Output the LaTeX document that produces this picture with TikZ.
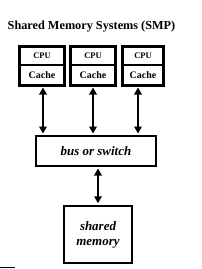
\documentclass[tikz,border=0pt]{standalone}
\usepackage{fontspec}
\setmainfont{Liberation Serif}
\usetikzlibrary{arrows.meta}
\begin{document}
\begin{tikzpicture}[x=1bp,y=-1bp,
  unitbox/.style={draw, line width=3bp},
  divline/.style={line width=2.2bp},
  lbl/.style={font=\bfseries\fontsize{8.5}{9}\selectfont, inner sep=0pt},
  itlbl/.style={font=\bfseries\itshape\fontsize{13}{15}\selectfont, inner sep=0pt, align=center},
  conn/.style={line width=2.8bp, {Triangle[length=7bp,width=7.5bp]}-{Triangle[length=7bp,width=7.5bp]}, shorten <=1.5bp, shorten >=1.5bp}
]
\useasboundingbox (0,0) rectangle (202,269);
\node[font=\bfseries\fontsize{12.3}{14}\selectfont, inner sep=0pt] (title) at (91.5,27) {Shared Memory Systems (SMP)};
% processor units
\foreach \i/\xa/\xb in {1/18/66, 2/69/117, 3/121/165}{
  \draw[unitbox] ({\xa+1.5},46.5) rectangle ({\xb-1.5},85.5);
  \draw[divline] (\xa,65) -- (\xb,65);
  \coordinate (u\i) at ({(\xa+\xb)/2},86);
  \node[lbl] (cpu\i) at ({(\xa+\xb)/2},55.8) {CPU};
  \node[lbl, font=\bfseries\fontsize{10}{10}\selectfont] (cache\i) at ({(\xa+\xb)/2},75.3) {Cache};
}
\node[draw, line width=2bp, minimum width=120bp, minimum height=30bp, inner sep=0pt, itlbl] (bus) at (96,151) {bus or switch};
\node[draw, line width=2.5bp, minimum width=68bp, minimum height=57bp, inner sep=0pt, itlbl] (mem) at (98,234.5) {shared\\memory};
\coordinate (a1) at (43,86); \coordinate (a2) at (93,86); \coordinate (a3) at (138,86);
\draw[conn] (a1) -- (a1 |- bus.north);
\draw[conn] (a2) -- (a2 |- bus.north);
\draw[conn] (a3) -- (a3 |- bus.north);
\draw[conn] (bus.south -| mem.north) -- (mem.north);
\draw[line width=1.5bp] (0,267.5) -- (15,267.5);
\end{tikzpicture}
\end{document}
